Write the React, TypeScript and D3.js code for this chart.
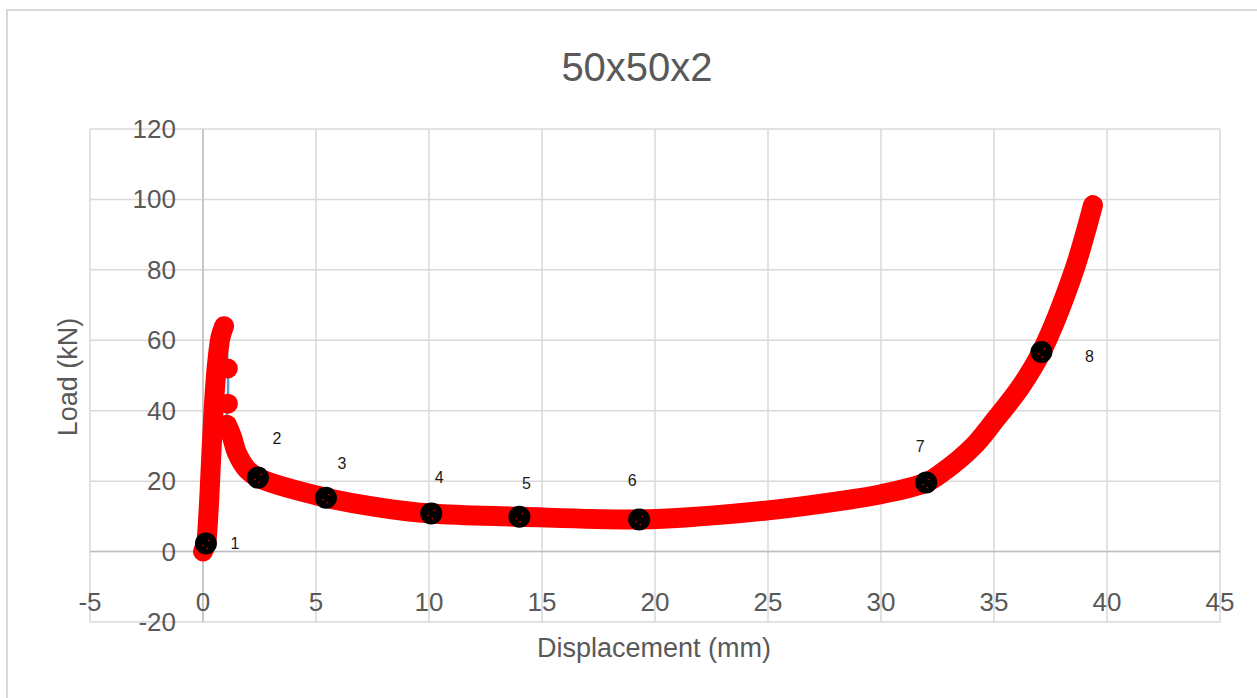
import React from "react";
import * as d3 from "d3";

const W = 1257;
const H = 698;

const title = "50x50x2";
const xTicks = [-5, 0, 5, 10, 15, 20, 25, 30, 35, 40, 45];
const yTicks = [-20, 0, 20, 40, 60, 80, 100, 120];

// rising branch (displacement mm, load kN)
const riseX = [0, 0.13, 0.25, 0.35, 0.45, 0.55, 0.65, 0.78, 0.93];
const riseY = [0, 2.3, 12, 25, 38, 48, 55, 61, 64];
// isolated points on the drop after the peak
const dropX = [1.1, 1.1];
const dropY = [52, 42];
// post-peak branch
const postX = [1.06, 1.28, 1.5, 1.95, 2.43, 5.44, 7.83, 10.1, 14, 19.3, 22, 25, 28, 30, 32, 32.7, 34.1, 35, 36.2, 37.1, 38.5, 39.38];
const postY = [36, 32.6, 28, 23.3, 21, 15.3, 12.5, 10.8, 9.9, 9.1, 10.0, 11.7, 14.2, 16.3, 19.6, 22.4, 30, 37, 47, 56.7, 79, 98.4];
// numbered observation points
const markLabels = ["1", "2", "3", "4", "5", "6", "7", "8"];
const markX = [0.13, 2.43, 5.44, 10.1, 14.0, 19.3, 32.0, 37.1];
const markY = [2.3, 21, 15.3, 10.8, 9.9, 9.1, 19.6, 56.7];

const FONT = "'Liberation Sans', Arial, sans-serif";

export default function App() {
  const x = d3.scaleLinear().domain([-5, 45]).range([90, 1220]);
  const y = d3.scaleLinear().domain([-20, 120]).range([622, 129]);

  const lineCR = d3
    .line<[number, number]>()
    .x((d) => x(d[0]))
    .y((d) => y(d[1]))
    .curve(d3.curveCatmullRom.alpha(0.5));

  const rise: [number, number][] = riseX.map((v, i) => [v, riseY[i]]);
  const drop: [number, number][] = dropX.map((v, i) => [v, dropY[i]]);
  const post: [number, number][] = postX.map((v, i) => [v, postY[i]]);
  const all = [...rise, ...drop, ...post];

  const labelOffsets: [number, number][] = [
    [29, 0], [19, -40], [16, -35], [8, -37], [7, -34], [-7, -40], [-6, -37], [48, 4],
  ];

  return (
    <svg width={W} height={H} style={{ position: "absolute", left: 0, top: 0 }}>
      <rect x={0} y={0} width={W} height={H} fill="#fff" />
      <rect x={7} y={10} width={W + 10} height={H} fill="#fff" stroke="#d9d9d9" strokeWidth={2} />
      <text x={637} y={81} textAnchor="middle" fontFamily={FONT} fontSize={40} fill="#595959">
        {title}
      </text>
      {/* gridlines */}
      {xTicks.map((t) => (
        <line key={"gx" + t} x1={x(t)} x2={x(t)} y1={y(120)} y2={y(-20)} stroke="#d9d9d9" strokeWidth={1.5} />
      ))}
      {yTicks.map((t) => (
        <line key={"gy" + t} x1={x(-5)} x2={x(45)} y1={y(t)} y2={y(t)} stroke="#d9d9d9" strokeWidth={1.5} />
      ))}
      {/* axes */}
      <line x1={x(-5)} x2={x(45)} y1={y(0)} y2={y(0)} stroke="#bfbfbf" strokeWidth={1.5} />
      <line x1={x(0)} x2={x(0)} y1={y(120)} y2={y(-20)} stroke="#bfbfbf" strokeWidth={1.5} />
      {/* tick labels */}
      {yTicks.map((t) => (
        <text key={"ty" + t} x={176} y={y(t) + 9} textAnchor="end" fontFamily={FONT} fontSize={26} fill="#595959">
          {t}
        </text>
      ))}
      {xTicks.map((t) => (
        <text key={"tx" + t} x={x(t)} y={611} textAnchor="middle" fontFamily={FONT} fontSize={26} fill="#595959">
          {t}
        </text>
      ))}
      {/* axis titles */}
      <text x={654} y={657} textAnchor="middle" fontFamily={FONT} fontSize={27} fill="#595959">
        Displacement (mm)
      </text>
      <text
        transform={`translate(77,377) rotate(-90)`}
        textAnchor="middle"
        fontFamily={FONT}
        fontSize={27}
        fill="#595959"
      >
        Load (kN)
      </text>
      {/* blue raw line */}
      <path d={lineCR(all) || ""} fill="none" stroke="#5b9bd5" strokeWidth={2.5} />
      {/* red thick series */}
      <path d={lineCR(rise) || ""} fill="none" stroke="#ff0000" strokeWidth={20} strokeLinecap="round" strokeLinejoin="round" />
      {drop.map((d, i) => (
        <circle key={"dr" + i} cx={x(d[0])} cy={y(d[1])} r={10} fill="#ff0000" />
      ))}
      <path d={lineCR(post) || ""} fill="none" stroke="#ff0000" strokeWidth={20} strokeLinecap="round" strokeLinejoin="round" />
      {/* markers */}
      {markX.map((v, i) => (
        <g key={"m" + i}>
          <circle cx={x(v)} cy={y(markY[i])} r={11} fill="#000" />
          <circle cx={x(v) - 3} cy={y(markY[i]) + 2} r={0.8} fill="#ff0000" />
          <circle cx={x(v) + 3} cy={y(markY[i]) - 3} r={0.8} fill="#ff0000" />
          <circle cx={x(v) + 1} cy={y(markY[i]) + 5} r={0.8} fill="#ff0000" />
          <text
            x={x(v) + labelOffsets[i][0]}
            y={y(markY[i]) + labelOffsets[i][1] + 6}
            textAnchor="middle"
            fontFamily={FONT}
            fontSize={16}
            fill="#1a1a1a"
          >
            {markLabels[i]}
          </text>
        </g>
      ))}
    </svg>
  );
}
